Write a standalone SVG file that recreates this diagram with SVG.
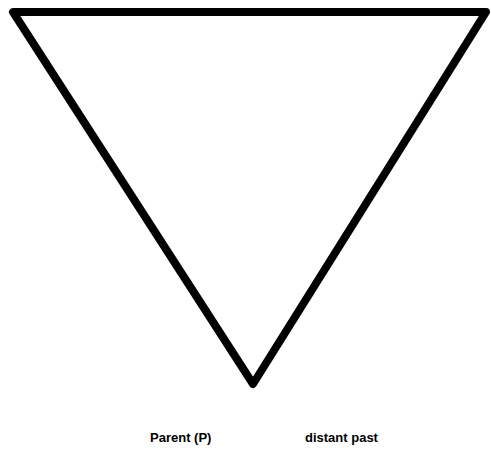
<svg xmlns="http://www.w3.org/2000/svg" width="491" height="459" viewBox="0 0 491 459">
<style>
.t{font-family:"Liberation Sans",Arial,sans-serif;font-size:13px;font-weight:bold;fill:#000}
</style>
<rect width="491" height="459" fill="#fff"/>
<g id="triangle">
<polygon points="13,12 486,12 253,384" fill="#fff" stroke="#000" stroke-width="8" stroke-linejoin="round"/>
</g>
<g id="labels">
<text class="t" x="150" y="442">Parent (P)</text>
<text class="t" x="305" y="442">distant past</text>
</g>
</svg>
